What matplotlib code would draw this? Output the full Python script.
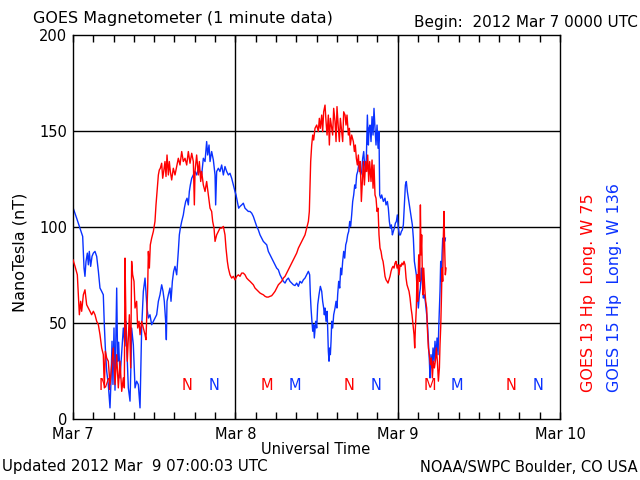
import matplotlib
matplotlib.use("Agg")
import matplotlib.pyplot as plt
from matplotlib.ticker import FixedLocator, MultipleLocator

# ---------------- data (hours since 2012 Mar 7 00:00 UT, nanoTesla) ----------------
g13_hours = [0.00, 0.30, 0.64, 0.79, 0.94, 1.13, 1.28, 1.53, 1.77, 2.02, 2.27, 2.51, 2.76, 3.01, 3.25, 3.50,
             3.75, 3.99, 4.24, 4.48, 4.63, 4.78, 4.98, 5.22, 5.47, 5.72, 5.96, 6.21, 6.46, 6.70, 6.95, 7.20,
             7.44, 7.59, 7.69, 7.84, 8.03, 8.33, 8.53, 8.67, 8.82, 9.02, 9.17, 9.41, 9.56, 9.76, 9.91, 10.15,
             10.40, 10.65, 10.79, 11.04, 11.14, 11.29, 11.43, 11.63, 11.88, 12.12, 12.27, 12.42, 12.62, 12.76,
             12.91, 13.11, 13.26, 13.41, 13.60, 13.75, 13.90, 14.10, 14.24, 14.39, 14.59, 14.83, 15.08, 15.33,
             15.57, 15.82, 16.07, 16.31, 16.56, 16.81, 17.05, 17.30, 17.55, 17.79, 17.94, 18.04, 18.28, 18.53,
             18.68, 18.88, 19.02, 19.27, 19.52, 19.76, 20.01, 20.26, 20.50, 20.65, 20.85, 21.00, 21.24, 21.49,
             21.73, 21.98, 22.23, 22.47, 22.62, 22.82, 22.97, 23.21, 23.46, 23.71, 23.95, 24.20, 24.45, 24.69,
             24.94, 25.18, 25.43, 25.68, 25.92, 26.17, 26.42, 26.66, 26.91, 27.16, 27.40, 27.65, 27.90, 28.14,
             28.39, 28.64, 28.88, 29.13, 29.37, 29.62, 29.87, 30.11, 30.36, 30.61, 30.85, 31.10, 31.35, 31.59,
             31.84, 32.08, 32.33, 32.58, 32.82, 33.07, 33.32, 33.56, 33.81, 34.06, 34.30, 34.55, 34.80, 34.94,
             35.04, 35.14, 35.29, 35.44, 35.58, 35.78, 36.03, 36.27, 36.42, 36.57, 36.77, 36.91, 37.06, 37.26,
             37.41, 37.56, 37.75, 37.90, 38.05, 38.25, 38.39, 38.54, 38.74, 38.89, 39.03, 39.23, 39.38, 39.53,
             39.72, 39.87, 40.02, 40.22, 40.36, 40.51, 40.71, 40.86, 41.00, 41.20, 41.45, 41.60, 41.74, 41.89,
             42.04, 42.19, 42.34, 42.48, 42.63, 42.78, 42.93, 43.08, 43.27, 43.42, 43.57, 43.72, 43.86, 44.06,
             44.21, 44.36, 44.50, 44.65, 44.80, 44.95, 45.10, 45.24, 45.39, 45.54, 45.69, 45.84, 45.98, 46.13,
             46.28, 46.43, 46.57, 46.72, 46.87, 47.02, 47.17, 47.31, 47.46, 47.61, 47.76, 47.91, 48.05, 48.20,
             48.35, 48.50, 48.64, 48.79, 48.94, 49.09, 49.24, 49.38, 49.53, 49.68, 49.83, 49.98, 50.12, 50.27,
             50.42, 50.52, 50.62, 50.76, 50.86, 50.96, 51.11, 51.26, 51.36, 51.45, 51.55, 51.65, 51.75, 51.85,
             52.00, 52.14, 52.29, 52.39, 52.54, 52.69, 52.83, 52.98, 53.13, 53.28, 53.43, 53.57, 53.72, 53.87,
             54.02, 54.17, 54.26, 54.36, 54.46, 54.56, 54.66, 54.76, 54.85, 54.95, 55.05, 55.15]
g13_hp = [82.9, 79.5, 75.1, 64.7, 54.3, 61.3, 56.1, 64.7, 67.3, 59.5, 57.8, 56.1, 54.3, 56.1, 54.3, 50.9,
          49.1, 43.9, 37.0, 33.5, 16.2, 35.3, 31.8, 30.1, 17.9, 28.3, 37.0, 17.9, 33.5, 16.2, 30.1, 14.4,
          21.4, 16.2, 83.8, 47.4, 30.1, 54.3, 26.6, 82.1, 75.1, 71.7, 57.8, 61.3, 47.4, 50.9, 43.9, 50.9,
          47.4, 43.9, 41.3, 68.2, 87.3, 78.6, 90.7, 94.2, 97.7, 102.9, 111.5, 118.5, 127.1, 129.7,
          130.6, 133.2, 125.4, 128.9, 134.1, 126.3, 137.5, 127.1, 134.1, 128.9, 124.5, 130.6, 127.1, 131.5,
          135.8, 132.3, 139.3, 134.1, 135.8, 132.3, 139.3, 133.2, 138.4, 134.1, 111.5, 128.9, 137.5, 127.1,
          134.1, 123.7, 128.9, 121.9, 118.5, 123.7, 116.7, 109.8, 108.1, 102.9, 99.4, 92.5, 95.9, 97.7,
          99.4, 99.4, 100.3, 95.9, 89.0, 82.1, 78.6, 75.1, 73.4, 74.3, 72.5, 74.3, 75.1, 74.3,
          76.0, 76.0, 75.1, 73.4, 72.5, 71.7, 70.8, 69.9, 68.2, 67.3, 66.5, 65.6, 65.1, 64.7,
          63.9, 63.5, 63.5, 63.9, 64.2, 65.3, 66.5, 68.2, 69.9, 70.8, 71.7, 73.4, 74.3, 76.0,
          77.7, 79.5, 81.2, 82.9, 84.7, 86.4, 89.0, 90.7, 92.5, 94.2, 95.9, 99.4, 102.9, 108.1,
          120.2, 134.1, 142.7, 147.9, 145.3, 151.4, 153.1, 149.7, 156.6, 151.4, 158.3, 149.7, 160.0, 163.5,
          154.9, 147.9, 158.3, 142.7, 156.6, 151.4, 147.9, 161.8, 154.9, 144.5, 162.7, 151.4, 144.5, 156.6,
          149.7, 144.5, 160.0, 158.3, 153.1, 158.3, 147.9, 151.4, 142.7, 147.9, 144.5, 139.3, 142.7, 135.8,
          132.3, 137.5, 128.9, 134.1, 113.3, 123.7, 134.1, 121.9, 134.1, 128.9, 137.5, 123.7, 134.1, 123.7,
          134.9, 120.2, 132.3, 116.7, 115.0, 108.1, 109.8, 95.9, 89.0, 87.3, 83.8, 82.1, 78.6, 74.3,
          72.5, 71.7, 70.8, 72.5, 74.3, 76.9, 78.6, 79.5, 78.6, 81.2, 82.1, 78.6, 80.3, 75.1,
          80.3, 79.5, 81.2, 80.3, 82.1, 80.3, 73.4, 69.9, 68.2, 66.5, 63.0, 57.8, 54.3, 49.1,
          43.9, 37.0, 47.4, 57.8, 75.1, 61.3, 85.5, 71.7, 111.5, 85.5, 95.9, 75.1, 64.7, 78.6,
          68.2, 61.3, 57.8, 47.4, 37.0, 33.5, 28.3, 31.8, 21.4, 30.1, 26.6, 30.1, 37.0, 30.1,
          19.7, 26.6, 38.7, 47.4, 61.3, 78.6, 71.7, 95.9, 108.1, 89.0, 75.1, 78.6]

g15_hours = [0.00, 0.54, 1.03, 1.43, 1.63, 1.77, 1.92, 2.12, 2.27, 2.41, 2.61, 2.81, 3.01, 3.25, 3.50, 3.75,
             3.99, 4.24, 4.48, 4.63, 4.78, 4.98, 5.22, 5.47, 5.62, 5.77, 5.91, 6.06, 6.21, 6.36, 6.46, 6.60,
             6.75, 6.95, 7.20, 7.44, 7.69, 7.84, 8.03, 8.18, 8.43, 8.58, 8.67, 8.92, 9.17, 9.41, 9.66, 9.91,
             10.05, 10.15, 10.40, 10.65, 10.94, 11.14, 11.38, 11.63, 11.88, 12.12, 12.37, 12.62, 12.86, 13.11,
             13.31, 13.50, 13.70, 13.80, 13.90, 14.10, 14.34, 14.49, 14.69, 14.88, 15.08, 15.33, 15.57, 15.72,
             15.87, 16.07, 16.31, 16.46, 16.66, 16.86, 17.05, 17.20, 17.35, 17.55, 17.79, 18.04, 18.28, 18.53,
             18.78, 19.02, 19.27, 19.52, 19.76, 19.91, 20.11, 20.26, 20.50, 20.75, 21.00, 21.09, 21.24, 21.49,
             21.73, 21.98, 22.23, 22.47, 22.72, 22.97, 23.21, 23.46, 23.71, 23.95, 24.10, 24.30, 24.49, 24.69,
             24.94, 25.18, 25.43, 25.68, 25.92, 26.17, 26.42, 26.66, 26.91, 27.16, 27.40, 27.65, 27.90, 28.14,
             28.39, 28.64, 28.88, 29.13, 29.37, 29.62, 29.87, 30.11, 30.36, 30.61, 30.85, 31.10, 31.35, 31.59,
             31.84, 32.08, 32.33, 32.58, 32.82, 33.07, 33.32, 33.56, 33.81, 34.06, 34.30, 34.55, 34.80, 34.99,
             35.09, 35.19, 35.29, 35.44, 35.58, 35.68, 35.88, 36.03, 36.18, 36.37, 36.57, 36.77, 36.91, 37.06,
             37.16, 37.26, 37.41, 37.56, 37.65, 37.75, 37.85, 37.95, 38.05, 38.15, 38.25, 38.39, 38.54, 38.74,
             38.89, 39.03, 39.13, 39.28, 39.43, 39.58, 39.72, 39.87, 40.02, 40.17, 40.32, 40.46, 40.61, 40.76,
             40.91, 41.05, 41.20, 41.35, 41.50, 41.65, 41.79, 41.94, 42.09, 42.24, 42.39, 42.53, 42.68, 42.83,
             42.98, 43.08, 43.22, 43.37, 43.52, 43.67, 43.77, 43.91, 44.06, 44.21, 44.36, 44.50, 44.65, 44.80,
             44.95, 45.10, 45.24, 45.34, 45.49, 45.64, 45.88, 46.13, 46.28, 46.48, 46.62, 46.77, 46.92, 47.07,
             47.22, 47.36, 47.51, 47.66, 47.81, 47.95, 48.10, 48.25, 48.40, 48.55, 48.69, 48.84, 48.99, 49.14,
             49.28, 49.43, 49.58, 49.73, 49.88, 50.02, 50.17, 50.32, 50.47, 50.62, 50.76, 50.91, 51.06, 51.21,
             51.36, 51.50, 51.65, 51.80, 51.95, 52.09, 52.29, 52.44, 52.54, 52.69, 52.78, 52.93, 53.08, 53.23,
             53.38, 53.52, 53.67, 53.82, 53.97, 54.07, 54.17, 54.26, 54.36, 54.46, 54.56, 54.66, 54.76, 54.85,
             54.95, 55.05]
g15_hp = [110.1, 104.6, 99.4, 95.1, 78.6, 74.3, 82.0, 86.4, 80.3, 87.3, 79.5, 84.7, 86.4, 87.3, 84.7, 77.0,
          68.2, 66.5, 64.7, 49.1, 37.0, 24.9, 17.9, 5.8, 20.0, 40.5, 18.0, 47.4, 15.0, 45.0, 68.2, 30.0,
          40.0, 21.4, 35.0, 47.4, 38.0, 50.9, 30.0, 16.2, 9.3, 30.0, 47.4, 38.7, 16.2, 19.7, 17.9, 5.8,
          30.0, 47.4, 66.5, 73.4, 57.8, 52.6, 54.3, 49.1, 50.9, 52.6, 54.3, 61.3, 64.7, 69.9,
          66.5, 61.3, 50.9, 41.3, 61.3, 64.7, 68.2, 61.3, 71.7, 76.9, 79.5, 75.1, 87.3, 95.9,
          99.4, 102.9, 106.3, 109.8, 113.3, 115.0, 111.5, 118.5, 121.9, 125.4, 127.1, 128.9, 127.1, 130.6,
          128.9, 127.1, 135.8, 134.1, 144.5, 137.5, 142.7, 134.1, 139.3, 134.9, 127.1, 111.5, 128.9, 130.6,
          128.9, 132.3, 127.1, 131.5, 128.9, 127.1, 128.0, 125.4, 121.9, 118.5, 116.7, 113.3, 109.8, 110.7,
          111.5, 112.4, 109.8, 108.9, 108.1, 108.1, 107.2, 105.5, 102.9, 100.3, 98.5, 95.9, 94.2, 92.5,
          91.6, 90.7, 87.3, 85.5, 83.8, 82.1, 80.3, 78.6, 77.7, 75.1, 73.4, 71.7, 70.8, 72.5,
          73.4, 71.7, 70.8, 69.9, 69.5, 70.8, 69.1, 71.7, 70.8, 72.5, 73.4, 75.1, 76.9, 75.1,
          64.7, 57.8, 52.6, 45.7, 49.1, 42.2, 50.9, 47.4, 59.5, 64.7, 69.1, 66.5, 61.3, 57.8,
          54.3, 57.8, 50.9, 56.1, 47.4, 35.3, 30.1, 37.0, 33.5, 40.5, 50.9, 47.4, 54.3, 57.8,
          61.3, 57.8, 64.7, 71.7, 68.2, 78.6, 75.1, 82.1, 87.3, 83.8, 90.7, 92.5, 95.9, 97.7,
          102.9, 100.3, 106.3, 113.3, 116.7, 121.9, 120.2, 127.1, 128.9, 132.3, 130.6, 127.1, 128.9, 135.8,
          139.3, 134.1, 128.9, 135.8, 158.3, 142.7, 151.4, 153.1, 144.5, 157.5, 147.9, 161.8, 151.4, 142.7,
          153.1, 141.0, 149.7, 116.7, 115.0, 116.7, 113.3, 115.0, 111.5, 113.3, 109.8, 102.9, 99.4, 101.1,
          95.9, 97.7, 99.4, 102.0, 102.9, 106.3, 99.4, 95.9, 95.9, 97.7, 98.5, 101.1, 111.5, 121.9,
          123.7, 118.5, 115.0, 111.5, 108.1, 104.6, 101.1, 94.2, 82.1, 78.6, 75.1, 64.7, 57.8, 64.7,
          68.2, 78.6, 71.7, 63.0, 64.7, 61.3, 54.3, 47.4, 40.5, 30.1, 21.4, 33.5, 26.6, 37.0,
          30.1, 40.5, 31.8, 42.2, 33.5, 47.4, 57.8, 66.5, 82.1, 71.7, 85.5, 94.2, 90.7, 95.9,
          92.5, 94.2]

# local midnight (M) / noon (N) marks, hours since start
g13_midnight = [4.7, 28.7, 52.7]
g13_noon = [16.8, 40.8, 64.8]
g15_midnight = [32.8, 56.8]
g15_noon = [20.8, 44.8, 68.8]
mark_level = 17.7

day_ticks = [0, 24, 48, 72]
day_labels = ["Mar 7", "Mar 8", "Mar 9", "Mar 10"]
y_ticks = [0, 50, 100, 150, 200]

RED = "#ff0000"
BLUE = "#0a32ff"
FS = 10.5

plt.rcParams["font.family"] = ["DejaVu Sans"]

W, H = 640, 480
fig = plt.figure(figsize=(6.4, 4.8), dpi=100)
fig.patch.set_facecolor("white")
ax = fig.add_axes([73 / W, 1 - 419 / H, (560 - 73) / W, (419 - 35) / H])

ax.set_xlim(0, 72)
ax.set_ylim(0, 200)

for v in [50, 100, 150]:
    ax.axhline(v, color="black", lw=1.0, zorder=1)
for v in [24, 48]:
    ax.axvline(v, color="black", lw=1.0, zorder=1)

ax.plot(g13_hours, g13_hp, color=RED, lw=1.0, zorder=3)
ax.plot(g15_hours, g15_hp, color=BLUE, lw=1.0, zorder=2)

for h in g13_midnight:
    ax.text(h, mark_level, "M", color=RED, ha="center", va="center", fontsize=FS)
for h in g13_noon:
    ax.text(h, mark_level, "N", color=RED, ha="center", va="center", fontsize=FS)
for h in g15_midnight:
    ax.text(h, mark_level, "M", color=BLUE, ha="center", va="center", fontsize=FS)
for h in g15_noon:
    ax.text(h, mark_level, "N", color=BLUE, ha="center", va="center", fontsize=FS)

ax.xaxis.set_major_locator(FixedLocator(day_ticks))
ax.set_xticklabels(day_labels)
ax.xaxis.set_minor_locator(MultipleLocator(3))
ax.set_yticks(y_ticks)
ax.set_yticklabels([str(v) for v in y_ticks])
ax.tick_params(axis="x", which="both", direction="in", top=True, bottom=True, length=5,
               width=1.0, labelsize=FS, pad=6)
ax.tick_params(axis="y", which="both", length=0, labelsize=FS, pad=4)
for s in ax.spines.values():
    s.set_linewidth(1.0)
    s.set_color("black")

def px(x, y):
    return x / W, 1 - y / H

fig.text(*px(33, 18), "GOES Magnetometer (1 minute data)", fontsize=11.5, ha="left", va="center")
fig.text(*px(638, 22), "Begin:  2012 Mar 7 0000 UTC", fontsize=11, ha="right", va="center")
fig.text(*px(316, 450), "Universal Time", fontsize=FS, ha="center", va="center")
fig.text(*px(2, 467), "Updated 2012 Mar  9 07:00:03 UTC", fontsize=10.8, ha="left", va="center")
fig.text(*px(638, 467), "NOAA/SWPC Boulder, CO USA", fontsize=FS, ha="right", va="center")
fig.text(*px(20, 252), "NanoTesla (nT)", fontsize=FS + 1, rotation=90, ha="center", va="center")
fig.text(*px(589, 392), "GOES 13 Hp  Long. W 75", color=RED, fontsize=FS + 1, rotation=90,
         ha="center", va="bottom")
fig.text(*px(615, 392), "GOES 15 Hp  Long. W 136", color=BLUE, fontsize=FS + 1, rotation=90,
         ha="center", va="bottom")

fig.savefig("out.png", dpi=100, facecolor="white")
